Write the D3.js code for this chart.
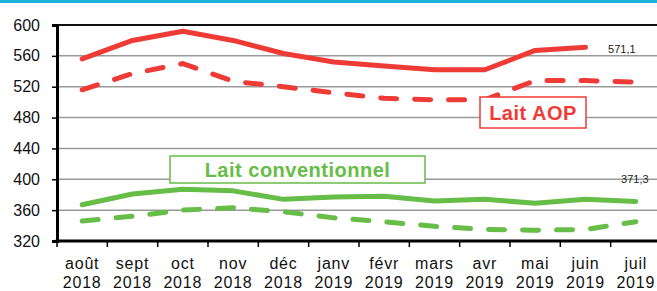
<!DOCTYPE html>
<html lang="fr">
<head>
<meta charset="UTF-8">
<title>Prix du lait</title>
<style>
  body { margin: 0; background: #fff; }
  text { font-family: "Liberation Sans", Arial, sans-serif; }
</style>
</head>
<body>
<svg width="657" height="291"></svg>
<script src="https://d3js.org/d3.v7.min.js"></script>
<script>
// months (two-line labels)
var months = ["août", "sept", "oct", "nov", "déc", "janv", "févr", "mars", "avr", "mai", "juin", "juil"];
var years = ["2018", "2018", "2018", "2018", "2018", "2019", "2019", "2019", "2019", "2019", "2019", "2019"];
var yTicks = [320, 360, 400, 440, 480, 520, 560, 600];

// series
var aopCurrent = [556, 580, 592, 580, 563, 552, 547, 542, 542, 567, 571.1, null];
var aopPrevious = [516, 537, 550, 527, 520, 512, 505, 503, 503, 528, 528, 526];
var convCurrent = [367, 381, 387, 385, 374, 377, 378, 372, 374, 369, 374, 371.3];
var convPrevious = [346, 352, 360, 363, 358, 350, 345, 339, 335, 334, 335, 345];

var red = "#ef3b36", green = "#66bd47";

var svg = d3.select("svg");

// cyan band at top
svg.append("rect").attr("x", 0).attr("y", 0).attr("width", 657).attr("height", 3).attr("fill", "#18b2da");

var x = d3.scaleBand().domain(months).range([57, 661]);
var y = d3.scaleLinear().domain([320, 600]).range([241, 25]);
var cx = function(i) { return x(months[i]) + x.bandwidth() / 2; };

// gridlines
svg.append("g").selectAll("line")
  .data(yTicks.filter(function(t) { return t > 320 && t < 600; }))
  .enter().append("line")
  .attr("x1", 57).attr("x2", 661)
  .attr("y1", d => y(d)).attr("y2", d => y(d))
  .attr("stroke", "#9a9a9a").attr("stroke-width", 1.5);

// top border
svg.append("line").attr("x1", 57).attr("x2", 661).attr("y1", y(600)).attr("y2", y(600))
  .attr("stroke", "#111").attr("stroke-width", 2);

// y axis
var yAxis = svg.append("g").attr("transform", "translate(57,0)")
  .call(d3.axisLeft(y).tickValues(yTicks).tickSize(5).tickPadding(12));
yAxis.select(".domain").attr("stroke", "#000").attr("stroke-width", 3);
yAxis.selectAll(".tick line").attr("stroke", "#000").attr("stroke-width", 1.5);
yAxis.selectAll(".tick text").attr("font-size", 16).attr("fill", "#111");

// x axis with ticks at band boundaries
var xAxis = svg.append("g").attr("transform", "translate(0," + y(320) + ")");
xAxis.append("line").attr("x1", 55.5).attr("x2", 661).attr("y1", 0).attr("y2", 0)
  .attr("stroke", "#000").attr("stroke-width", 3);
xAxis.selectAll(".xt").data(months).enter().append("line")
  .attr("x1", d => x(d)).attr("x2", d => x(d)).attr("y1", 0).attr("y2", 6)
  .attr("stroke", "#000").attr("stroke-width", 1.5);
var xl = xAxis.selectAll(".xl").data(months).enter().append("text")
  .attr("text-anchor", "middle").attr("font-size", 16).attr("fill", "#111")
  .attr("letter-spacing", 0.8);
xl.append("tspan").attr("x", (d, i) => cx(i)).attr("y", 28).text(d => d);
xl.append("tspan").attr("x", (d, i) => cx(i)).attr("y", 47).text((d, i) => years[i]);

// lines
var line = d3.line()
  .defined(d => d != null)
  .x((d, i) => cx(i))
  .y(d => y(d));

function drawSeries(data, color, dashed) {
  svg.append("path").datum(data)
    .attr("d", line)
    .attr("fill", "none")
    .attr("stroke", color)
    .attr("stroke-width", 5)
    .attr("stroke-linecap", "round")
    .attr("stroke-linejoin", "round")
    .attr("stroke-dasharray", dashed ? "16 18" : null);
}
drawSeries(convPrevious, green, true);
drawSeries(convCurrent, green, false);
drawSeries(aopPrevious, red, true);
drawSeries(aopCurrent, red, false);

// data labels
svg.append("text").attr("x", cx(11) - 14).attr("y", y(571.1) + 6)
  .attr("text-anchor", "middle").attr("font-size", 11).attr("fill", "#222").text("571,1");
svg.append("text").attr("x", cx(11) - 1).attr("y", y(371.3) - 18)
  .attr("text-anchor", "middle").attr("font-size", 11).attr("fill", "#222").text("371,3");

// series labels in boxes
function boxLabel(txt, color, bx, by, bw, bh, fs) {
  var g = svg.append("g");
  g.append("rect").attr("x", bx).attr("y", by).attr("width", bw).attr("height", bh)
    .attr("fill", "#fff").attr("stroke", color).attr("stroke-width", 1.5);
  g.append("text").attr("x", bx + bw / 2).attr("y", by + bh / 2 + fs * 0.36)
    .attr("text-anchor", "middle").attr("font-size", fs).attr("font-weight", "bold")
    .attr("letter-spacing", 0.5)
    .attr("fill", color).text(txt);
}
boxLabel("Lait AOP", red, 480, 97, 106, 31, 20);
boxLabel("Lait conventionnel", green, 170, 156, 255, 27, 20);
</script>
</body>
</html>
